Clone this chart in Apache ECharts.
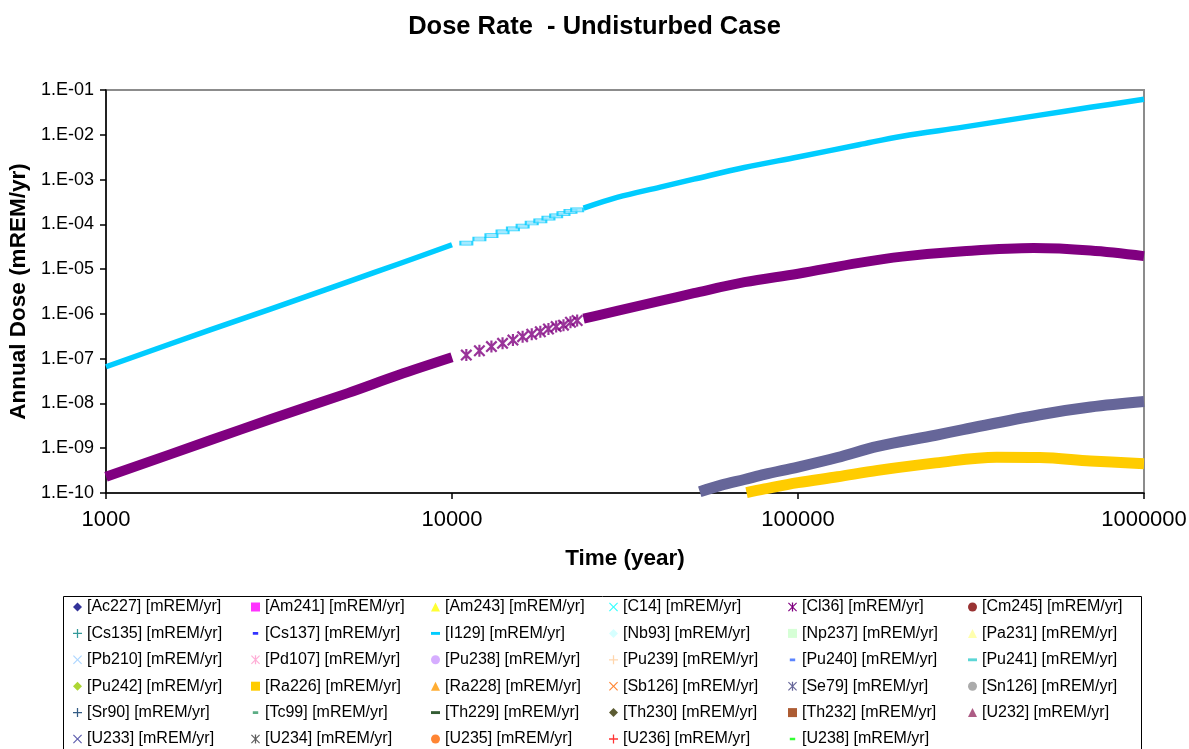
<!DOCTYPE html>
<html>
<head>
<meta charset="utf-8">
<title>Dose Rate - Undisturbed Case</title>
<script src="https://cdn.jsdelivr.net/npm/echarts@6/dist/echarts.min.js"></script>
<style>
  html, body { margin: 0; padding: 0; background: #ffffff; }
  #chart { width: 1189px; height: 749px; }
</style>
</head>
<body>
<div id="chart"></div>
<script>
// ---- Nuclides listed in the legend (row by row) ----
const nuclides = ['Ac227','Am241','Am243','C14','Cl36','Cm245',
                  'Cs135','Cs137','I129','Nb93','Np237','Pa231',
                  'Pb210','Pd107','Pu238','Pu239','Pu240','Pu241',
                  'Pu242','Ra226','Ra228','Sb126','Se79','Sn126',
                  'Sr90','Tc99','Th229','Th230','Th232','U232',
                  'U233','U234','U235','U236','U238'];

// ---- Axis ticks ----
const timeTicks = [1000, 10000, 100000, 1000000];
const doseTicks = [1e-10, 1e-9, 1e-8, 1e-7, 1e-6, 1e-5, 1e-4, 1e-3, 1e-2, 1e-1];

// ---- I129 annual dose [mREM/yr] ----
const i129EarlyTime = [1000, 2000, 3000, 5000, 7000, 10000];
const i129EarlyDose = [6.6e-8, 4.4e-7, 1.3e-6, 5.2e-6, 1.3e-5, 3.5e-5];
const i129StepTime  = [11000, 12000, 13000, 14000, 15000, 16000, 17000, 18000, 19000, 20000, 21000, 22000, 23000];
const i129StepDose  = [3.8e-5, 4.7e-5, 5.6e-5, 6.8e-5, 7.9e-5, 9.1e-5, 1.07e-4, 1.2e-4, 1.38e-4, 1.55e-4, 1.74e-4, 1.95e-4, 2.1e-4];
const i129LateTime  = [24000, 30000, 40000, 50000, 70000, 100000, 150000, 200000, 300000, 500000, 700000, 1000000];
const i129LateDose  = [2.3e-4, 4.0e-4, 6.8e-4, 1.02e-3, 1.86e-3, 3.2e-3, 6.0e-3, 9.3e-3, 1.48e-2, 2.75e-2, 4.1e-2, 6.2e-2];

// ---- Cl36 annual dose [mREM/yr] ----
const cl36EarlyTime = [1000, 2000, 3000, 5000, 7000, 10000];
const cl36EarlyDose = [2.3e-10, 1.5e-9, 4.5e-9, 1.7e-8, 4.3e-8, 1.07e-7];
const cl36StepTime  = [11000, 12000, 13000, 14000, 15000, 16000, 17000, 18000, 19000, 20000, 21000, 22000, 23000];
const cl36StepDose  = [1.2e-7, 1.5e-7, 1.86e-7, 2.2e-7, 2.6e-7, 3.1e-7, 3.5e-7, 4.0e-7, 4.6e-7, 5.2e-7, 5.6e-7, 6.5e-7, 7.1e-7];
const cl36LateTime  = [24000, 26800, 30000, 40000, 50000, 70000, 100000, 150000, 200000, 300000, 480000, 700000, 1000000];
const cl36LateDose  = [7.8e-7, 9.5e-7, 1.17e-6, 1.95e-6, 2.9e-6, 5.1e-6, 7.9e-6, 1.38e-5, 1.9e-5, 2.5e-5, 2.95e-5, 2.6e-5, 1.95e-5];

// ---- Se79 annual dose [mREM/yr] ----
const se79Time = [52000, 60000, 70000, 80000, 100000, 130000, 170000, 250000, 300000, 500000, 700000, 1000000];
const se79Dose = [1.07e-10, 1.5e-10, 2.0e-10, 2.6e-10, 3.8e-10, 6.2e-10, 1.1e-9, 1.95e-9, 2.6e-9, 5.6e-9, 8.3e-9, 1.1e-8];

// ---- Ra226 annual dose [mREM/yr] ----
const ra226Time = [71000, 80000, 100000, 130000, 170000, 250000, 375000, 500000, 700000, 1000000];
const ra226Dose = [1.02e-10, 1.23e-10, 1.7e-10, 2.3e-10, 3.2e-10, 4.7e-10, 6.3e-10, 6.2e-10, 5.2e-10, 4.5e-10];

// ---- Marker styling (Excel-like palette and marker cycle) ----
const colorList = ['#000080','#FF00FF','#FFFF00','#00FFFF','#800080','#800000',
                   '#008080','#0000FF','#00CCFF','#CCFFFF','#CCFFCC','#FFFF99',
                   '#99CCFF','#FF99CC','#CC99FF','#FFCC99','#3366FF','#33CCCC',
                   '#99CC00','#FFCC00','#FF9900','#FF6600','#666699','#969696',
                   '#003366','#339966','#003300','#333300','#993300','#993366',
                   '#333399','#333333','#FF6600','#FF0000','#00FF00'];
const CROSS = 'path://M0,0.9L0.9,0L5,4.1L9.1,0L10,0.9L5.9,5L10,9.1L9.1,10L5,5.9L0.9,10L0,9.1L4.1,5Z';
const STAR  = 'path://M0,0.9L0.9,0L5,4.1L9.1,0L10,0.9L5.9,5L10,9.1L9.1,10L5,5.9L0.9,10L0,9.1L4.1,5Z M4.3,0L5.7,0L5.7,10L4.3,10Z';
const BOLDSTAR = 'path://M0,1.3L1.3,0L5,3.7L8.7,0L10,1.3L6.3,5L10,8.7L8.7,10L5,6.3L1.3,10L0,8.7L3.7,5Z M4.1,0L5.9,0L5.9,10L4.1,10Z';
const PLUS  = 'path://M4.3,0H5.7V4.3H10V5.7H5.7V10H4.3V5.7H0V4.3H4.3Z';
const SHORTDASH = 'path://M-2,1.5Z M0,0H6V3H0Z M8,1.5Z';
const LONGDASH  = 'path://M0,0H10V3.2H0Z';
const markerCycle = ['diamond','rect','triangle',CROSS,STAR,'circle',PLUS,SHORTDASH,LONGDASH];

const pair = (t, v) => t.map((x, i) => [x, v[i]]);
const label = n => '[' + n + '] [mREM/yr]';
const colorOf = n => colorList[nuclides.indexOf(n)];

// dense runs of markers are drawn as a thick band
function band(n, t, v, width) {
  return {
    type: 'line', name: label(n), data: pair(t, v),
    symbol: 'none', showSymbol: false, clip: false, silent: true, smooth: 0.35,
    lineStyle: { color: colorOf(n), width: width, cap: 'butt', join: 'round' },
    itemStyle: { color: colorOf(n) },
    emphasis: { disabled: true }
  };
}
// sparse stretches where the individual markers are visible
function marks(n, t, v, symbol, size, itemStyle) {
  return {
    type: 'scatter', name: label(n), data: pair(t, v),
    symbol: symbol, symbolSize: size, clip: false, silent: true,
    itemStyle: itemStyle, emphasis: { disabled: true }
  };
}

const withData = ['I129', 'Cl36', 'Se79', 'Ra226'];
const series = [];
// nuclides below the plotted range still appear in the legend
nuclides.forEach(n => {
  if (withData.indexOf(n) < 0) {
    series.push({ type: 'scatter', name: label(n), data: [], itemStyle: { color: colorOf(n) } });
  }
});
series.push(band('Cl36', cl36EarlyTime, cl36EarlyDose, 10));
series.push(marks('Cl36', cl36StepTime, cl36StepDose, BOLDSTAR, 12, { color: '#800080' }));
series.push(band('Cl36', cl36LateTime, cl36LateDose, 10));
series.push(band('I129', i129EarlyTime, i129EarlyDose, 5.5));
series.push(marks('I129', i129StepTime, i129StepDose, 'rect', [12, 4],
  { color: '#8FE3FF', borderColor: '#00CCFF', borderWidth: 1.2 }));
series.push(band('I129', i129LateTime, i129LateDose, 5.5));
series.push(band('Ra226', ra226Time, ra226Dose, 11));
series.push(band('Se79', se79Time, se79Dose, 11));

const FONT = '"Liberation Sans", Arial, sans-serif';

// legend: six columns, each column a vertical legend
const legendTextStarts = [87, 265, 445, 623, 802, 982];
const legends = legendTextStarts.map((x, c) => ({
  orient: 'vertical', left: x - 14, top: 599, padding: 0,
  itemWidth: 9, itemHeight: 9, itemGap: 10.4, symbolKeepAspect: true,
  selectedMode: false,
  textStyle: { color: '#000', fontSize: 16, lineHeight: 16, fontFamily: FONT },
  data: nuclides.map((n, i) => ({ n, i })).filter(o => o.i % 6 === c).map(o => ({
    name: label(o.n),
    icon: markerCycle[o.i % 9],
    itemStyle: { color: colorList[o.i], borderWidth: 0 }
  }))
}));

const chart = echarts.init(document.getElementById('chart'), null, { renderer: 'canvas' });
chart.setOption({
  animation: false,
  backgroundColor: '#ffffff',
  title: {
    text: 'Dose Rate  - Undisturbed Case', left: 'center', top: 9,
    textStyle: { fontFamily: FONT, fontSize: 25.5, fontWeight: 'bold', color: '#000' }
  },
  grid: {
    left: 106, right: 45, top: 90, bottom: 256,
    containLabel: false, outerBoundsMode: 'none',
    show: true, borderColor: '#8c8c8c', borderWidth: 2, backgroundColor: 'transparent'
  },
  xAxis: {
    type: 'log', logBase: 10, min: timeTicks[0], max: timeTicks[timeTicks.length - 1], interval: 1,
    name: 'Time (year)', nameLocation: 'middle', nameGap: 54,
    nameTextStyle: { fontFamily: FONT, fontSize: 22.5, fontWeight: 'bold', color: '#000' },
    axisLine: { show: true, lineStyle: { color: '#000', width: 1.5 } },
    axisTick: { show: true, inside: false, length: 6, lineStyle: { color: '#000', width: 1.5 } },
    minorTick: { show: false },
    splitLine: { show: false },
    axisLabel: { fontFamily: FONT, fontSize: 22, color: '#000', margin: 16, formatter: v => String(Math.round(v)) }
  },
  yAxis: {
    type: 'log', logBase: 10, min: doseTicks[0], max: doseTicks[doseTicks.length - 1], interval: 1,
    name: 'Annual Dose (mREM/yr)', nameLocation: 'middle', nameGap: 72, nameRotate: 90,
    nameTextStyle: { fontFamily: FONT, fontSize: 22.5, fontWeight: 'bold', color: '#000' },
    axisLine: { show: true, lineStyle: { color: '#000', width: 1.5 } },
    axisTick: { show: true, inside: false, length: 6, lineStyle: { color: '#000', width: 1.5 } },
    splitLine: { show: false },
    axisLabel: {
      fontFamily: FONT, fontSize: 18, color: '#000', margin: 12,
      formatter: v => {
        const e = Math.round(Math.log10(v));
        return '1.E' + (e < 0 ? '-' : '+') + String(Math.abs(e)).padStart(2, '0');
      }
    }
  },
  legend: legends,
  graphic: [{
    type: 'rect', left: 61, top: 594, silent: true,
    shape: { width: 1078, height: 180 },
    style: { fill: 'none', stroke: '#000', lineWidth: 1 }
  }],
  series: series
});
</script>
</body>
</html>
